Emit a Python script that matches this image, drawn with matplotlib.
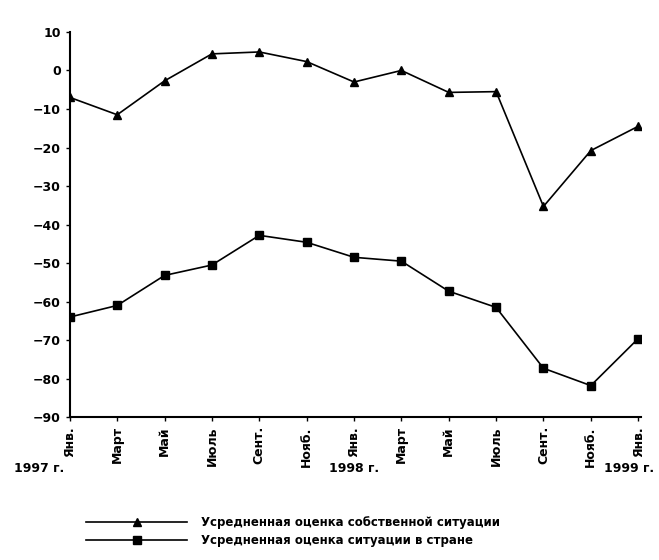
import matplotlib
matplotlib.use("Agg")
import matplotlib.pyplot as plt

# --- data ---
months = ["Янв.", "Март", "Май", "Июль", "Сент.", "Нояб.",
          "Янв.", "Март", "Май", "Июль", "Сент.", "Нояб.", "Янв."]
own_situation = [-7, -11.5, -2.7, 4.3, 4.8, 2.3, -3, 0, -5.7, -5.5, -35.3, -20.8, -14.5]
country_situation = [-64, -61, -53.2, -50.5, -42.8, -44.6, -48.5, -49.5, -57.3, -61.5, -77.3, -81.8, -69.6]
years = ["1997 г.", "1998 г.", "1999 г."]
legend_labels = ["Усредненная оценка собственной ситуации",
                 "Усредненная оценка ситуации в стране"]
y_ticks = list(range(10, -100, -10))

plt.rcParams['font.family'] = ['DejaVu Sans']

fig = plt.figure(figsize=(6.59, 5.6), dpi=100)
ax = fig.add_axes([0.106, 0.255, 0.866, 0.688])

x = list(range(len(months)))
l1, = ax.plot(x, own_situation, color='k', lw=1.2, marker='^', ms=5.5)
l2, = ax.plot(x, country_situation, color='k', lw=1.2, marker='s', ms=5.5)

ax.set_xlim(0, 12.05)
ax.set_ylim(-90, 10)
ax.set_yticks(y_ticks)
ax.set_yticklabels([f"{v:d}".replace("-", "\u2212") for v in y_ticks],
                   fontsize=9, fontweight='bold')
ax.set_xticks(x)
ax.set_xticklabels(months, rotation=90, fontsize=9, fontweight='bold')
ax.tick_params(axis='both', direction='out', length=3, width=1)

for side in ['top', 'right']:
    ax.spines[side].set_visible(False)
for side in ['left', 'bottom']:
    ax.spines[side].set_linewidth(1.5)

# year labels under the month ticks
year_x = [0.06, 0.538, 0.955]
for yx, yt in zip(year_x, years):
    fig.text(yx, 0.164, yt, ha='center', va='center', fontsize=9, fontweight='bold')

fig.legend([l1, l2], legend_labels, loc='lower left',
           bbox_to_anchor=(0.115, 0.004), frameon=False, handlelength=8.5,
           handletextpad=1.2, prop={'size': 8.5, 'weight': 'bold'},
           labelspacing=0.45)

fig.savefig("out.png", dpi=100)
